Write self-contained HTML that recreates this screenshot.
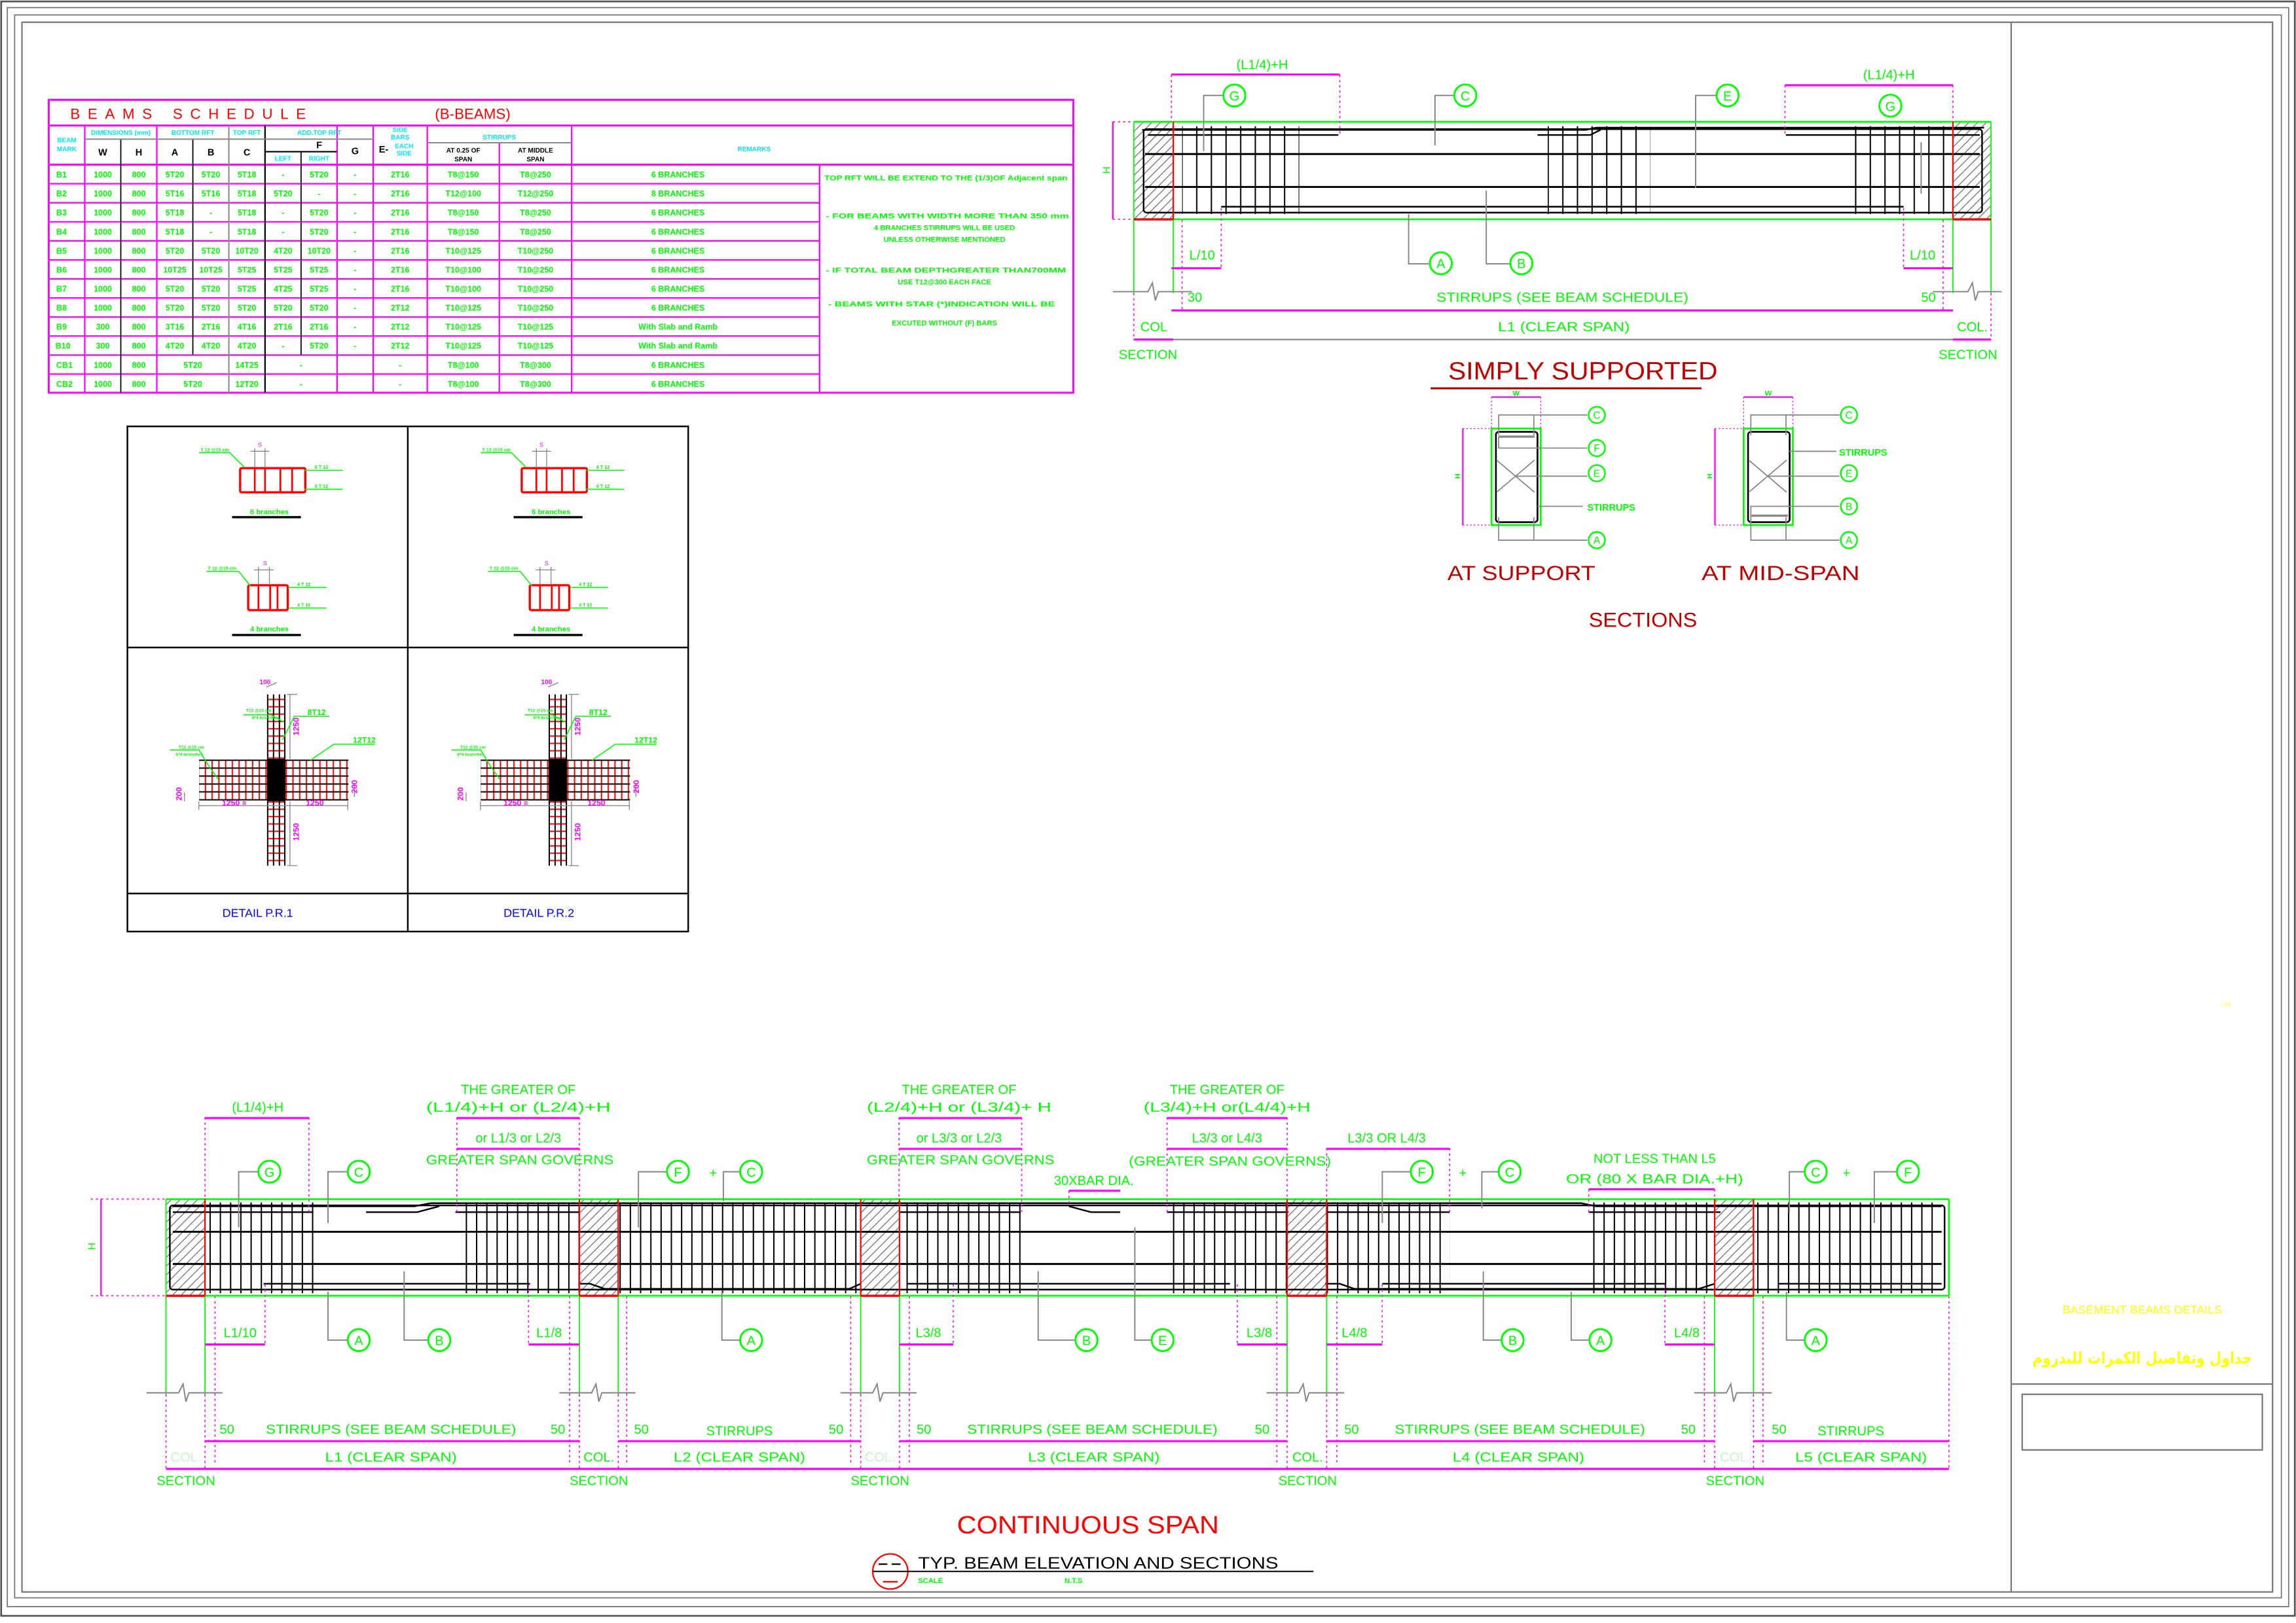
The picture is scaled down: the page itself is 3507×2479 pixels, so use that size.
<!DOCTYPE html>
<html><head><meta charset="utf-8"><style>
html,body{margin:0;padding:0;background:#fff}
svg{display:block}
text{font-family:"Liberation Sans Narrow","Liberation Sans",sans-serif}
.g{fill:#00ff00}.m{fill:#ff00ff}.r{fill:#ff0000}.dr{fill:#c00000}.c{fill:#00e8ff}.k{fill:#000}.b{fill:#0000ff}.y{fill:#ffff00}
.t{font-size:5.6px;font-weight:bold;text-anchor:middle}
.h{font-size:5px;font-weight:bold;text-anchor:middle}
.L{font-size:10px;text-anchor:middle}
.S{font-size:9px;text-anchor:middle}
</style></head><body>
<svg xmlns="http://www.w3.org/2000/svg" width="3507" height="2479" viewBox="0 0 1568 1108">
<defs>
<pattern id="hat" patternUnits="userSpaceOnUse" width="6" height="6"><path d="M-1,1 l2,-2 M0,6 l6,-6 M5,7 l2,-2" stroke="#777" stroke-width="0.6"/></pattern>
<pattern id="st7" patternUnits="userSpaceOnUse" width="7" height="200" x="0"><line x1="3.5" y1="0" x2="3.5" y2="200" stroke="#000" stroke-width="0.9"/></pattern>
<pattern id="st10" patternUnits="userSpaceOnUse" width="10" height="200" x="2.3"><line x1="5" y1="0" x2="5" y2="200" stroke="#000" stroke-width="0.9"/></pattern>
<pattern id="rv" patternUnits="userSpaceOnUse" width="4.6" height="50" x="0"><line x1="2.3" y1="0" x2="2.3" y2="50" stroke="#f00" stroke-width="0.9"/></pattern>
<pattern id="rh" patternUnits="userSpaceOnUse" width="50" height="5" y="0"><line x1="0" y1="2.5" x2="50" y2="2.5" stroke="#f00" stroke-width="0.9"/></pattern>
<g id="circ"><circle r="7.5" fill="#fff" stroke="#00ff00" stroke-width="1.3"/></g>
</defs>
<rect width="1568" height="1108" fill="#fff"/>
<!-- frame -->
<g fill="none" stroke="#777">
<rect x="0.8" y="0.8" width="1566.4" height="1102.5" stroke-width="1.2" stroke="#555"/>
<rect x="5" y="5" width="1558" height="1092" stroke-width="0.8"/>
<rect x="10" y="10" width="1548" height="1081" stroke-width="0.8"/>
<rect x="15" y="15" width="1537" height="1072" stroke-width="1"/>
<line x1="1373.5" y1="15" x2="1373.5" y2="1087" stroke-width="1"/>
<line x1="1373.5" y1="945" x2="1552" y2="945" stroke-width="1"/>
<rect x="1381" y="952" width="164" height="38" stroke-width="1"/>
</g>
<text x="1463" y="897" class="y" style="font-size:8px;text-anchor:middle">BASEMENT BEAMS DETAILS</text>
<text x="1463" y="931" class="y" style="font-size:11px;text-anchor:middle;font-family:'DejaVu Sans',sans-serif;font-weight:bold" textLength="150" lengthAdjust="spacingAndGlyphs">جداول وتفاصيل الكمرات للبدروم</text>
<text x="1520" y="687" class="y" style="font-size:3px;text-anchor:middle">1:100</text>

<!-- ================= SCHEDULE TABLE ================= -->
<g fill="none" stroke="#ff00ff" stroke-width="1">
<rect x="33.3" y="68" width="699.7" height="200" stroke-width="1.3"/>
<line x1="33.3" y1="85.5" x2="733" y2="85.5" stroke-width="1.3"/>
<line x1="33.3" y1="112.3" x2="733" y2="112.3" stroke-width="1.3"/>
<line x1="33.3" y1="125.3" x2="559.7" y2="125.3"/><line x1="33.3" y1="138.3" x2="559.7" y2="138.3"/>
<line x1="33.3" y1="151.3" x2="559.7" y2="151.3"/><line x1="33.3" y1="164.3" x2="559.7" y2="164.3"/>
<line x1="33.3" y1="177.3" x2="559.7" y2="177.3"/><line x1="33.3" y1="190.3" x2="559.7" y2="190.3"/>
<line x1="33.3" y1="203.3" x2="559.7" y2="203.3"/><line x1="33.3" y1="216.3" x2="559.7" y2="216.3"/>
<line x1="33.3" y1="229.3" x2="559.7" y2="229.3"/><line x1="33.3" y1="242.3" x2="559.7" y2="242.3"/>
<line x1="33.3" y1="255.3" x2="559.7" y2="255.3"/>
<line x1="57.9" y1="85.5" x2="57.9" y2="268"/>
<line x1="107.1" y1="85.5" x2="107.1" y2="268"/>
<line x1="230.2" y1="85.5" x2="230.2" y2="268"/>
<line x1="254.9" y1="85.5" x2="254.9" y2="268"/>
<line x1="291.8" y1="85.5" x2="291.8" y2="268"/>
<line x1="341" y1="97" x2="341" y2="268"/>
<line x1="390.4" y1="85.5" x2="390.4" y2="268"/>
<line x1="559.7" y1="112.3" x2="559.7" y2="268"/>
</g>
<g stroke="#000" stroke-width="0.8">
<line x1="82.5" y1="94.8" x2="82.5" y2="268"/>
<line x1="131.7" y1="94.8" x2="131.7" y2="242"/>
<line x1="181" y1="85.5" x2="181" y2="268" stroke-width="1"/>
<line x1="205.6" y1="103.4" x2="205.6" y2="242"/>
<line x1="181" y1="103.4" x2="230.2" y2="103.4" stroke-width="1"/>
</g>
<g stroke="#888" stroke-width="0.9">
<line x1="156.3" y1="85.5" x2="156.3" y2="268"/>
<line x1="57.9" y1="94.8" x2="181" y2="94.8"/>
<line x1="181" y1="94.8" x2="254.9" y2="94.8"/>
<line x1="291.8" y1="97.3" x2="390.4" y2="97.3"/>
</g>
<text x="48" y="81" class="r" style="font-size:10px;letter-spacing:5.2px">BEAMS</text>
<text x="118" y="81" class="r" style="font-size:10px;letter-spacing:5.2px">SCHEDULE</text>
<text x="297" y="81" class="r" style="font-size:10px">(B-BEAMS)</text>
<g class="c h" style="font-size:4.5px">
<text x="45.6" y="97">BEAM</text><text x="45.6" y="103">MARK</text>
<text x="82.5" y="92">DIMENSIONS (mm)</text><text x="131.7" y="92">BOTTOM RFT</text><text x="168.6" y="92">TOP RFT</text>
<text x="218" y="92">ADD.TOP RFT</text><text x="193.3" y="109.5">LEFT</text><text x="217.9" y="109.5">RIGHT</text>
<text x="273.3" y="90">SIDE</text><text x="273.3" y="95">BARS</text><text x="276" y="101">EACH</text><text x="276" y="106">SIDE</text>
<text x="341" y="95">STIRRUPS</text><text x="515" y="103">REMARKS</text>
</g>
<g class="k t" style="font-size:6.5px">
<text x="70.2" y="106">W</text><text x="94.8" y="106">H</text><text x="119.4" y="106">A</text><text x="144" y="106">B</text><text x="168.6" y="106">C</text>
<text x="218" y="101">F</text><text x="242.5" y="105">G</text><text x="262" y="104">E-</text>
</g>
<g class="k h" style="font-size:4.5px"><text x="316.4" y="104">AT 0.25 OF</text><text x="316.4" y="110">SPAN</text><text x="365.7" y="104">AT MIDDLE</text><text x="365.7" y="110">SPAN</text></g>
<g class="g t">
<text y="121"><tspan x="42">B1</tspan><tspan x="70.2">1000</tspan><tspan x="94.8">800</tspan><tspan x="119.4">5T20</tspan><tspan x="144">5T20</tspan><tspan x="168.6">5T18</tspan><tspan x="193.3">-</tspan><tspan x="217.9">5T20</tspan><tspan x="242.5">-</tspan><tspan x="273.3">2T16</tspan><tspan x="316.4">T8@150</tspan><tspan x="365.7">T8@250</tspan><tspan x="463">6 BRANCHES</tspan></text>
<text y="134"><tspan x="42">B2</tspan><tspan x="70.2">1000</tspan><tspan x="94.8">800</tspan><tspan x="119.4">5T16</tspan><tspan x="144">5T16</tspan><tspan x="168.6">5T18</tspan><tspan x="193.3">5T20</tspan><tspan x="217.9">-</tspan><tspan x="242.5">-</tspan><tspan x="273.3">2T16</tspan><tspan x="316.4">T12@100</tspan><tspan x="365.7">T12@250</tspan><tspan x="463">8 BRANCHES</tspan></text>
<text y="147"><tspan x="42">B3</tspan><tspan x="70.2">1000</tspan><tspan x="94.8">800</tspan><tspan x="119.4">5T18</tspan><tspan x="144">-</tspan><tspan x="168.6">5T18</tspan><tspan x="193.3">-</tspan><tspan x="217.9">5T20</tspan><tspan x="242.5">-</tspan><tspan x="273.3">2T16</tspan><tspan x="316.4">T8@150</tspan><tspan x="365.7">T8@250</tspan><tspan x="463">6 BRANCHES</tspan></text>
<text y="160"><tspan x="42">B4</tspan><tspan x="70.2">1000</tspan><tspan x="94.8">800</tspan><tspan x="119.4">5T18</tspan><tspan x="144">-</tspan><tspan x="168.6">5T18</tspan><tspan x="193.3">-</tspan><tspan x="217.9">5T20</tspan><tspan x="242.5">-</tspan><tspan x="273.3">2T16</tspan><tspan x="316.4">T8@150</tspan><tspan x="365.7">T8@250</tspan><tspan x="463">6 BRANCHES</tspan></text>
<text y="173"><tspan x="42">B5</tspan><tspan x="70.2">1000</tspan><tspan x="94.8">800</tspan><tspan x="119.4">5T20</tspan><tspan x="144">5T20</tspan><tspan x="168.6">10T20</tspan><tspan x="193.3">4T20</tspan><tspan x="217.9">10T20</tspan><tspan x="242.5">-</tspan><tspan x="273.3">2T16</tspan><tspan x="316.4">T10@125</tspan><tspan x="365.7">T10@250</tspan><tspan x="463">6 BRANCHES</tspan></text>
<text y="186"><tspan x="42">B6</tspan><tspan x="70.2">1000</tspan><tspan x="94.8">800</tspan><tspan x="119.4">10T25</tspan><tspan x="144">10T25</tspan><tspan x="168.6">5T25</tspan><tspan x="193.3">5T25</tspan><tspan x="217.9">5T25</tspan><tspan x="242.5">-</tspan><tspan x="273.3">2T16</tspan><tspan x="316.4">T10@100</tspan><tspan x="365.7">T10@250</tspan><tspan x="463">6 BRANCHES</tspan></text>
<text y="199"><tspan x="42">B7</tspan><tspan x="70.2">1000</tspan><tspan x="94.8">800</tspan><tspan x="119.4">5T20</tspan><tspan x="144">5T20</tspan><tspan x="168.6">5T25</tspan><tspan x="193.3">4T25</tspan><tspan x="217.9">5T25</tspan><tspan x="242.5">-</tspan><tspan x="273.3">2T16</tspan><tspan x="316.4">T10@100</tspan><tspan x="365.7">T10@250</tspan><tspan x="463">6 BRANCHES</tspan></text>
<text y="212"><tspan x="42">B8</tspan><tspan x="70.2">1000</tspan><tspan x="94.8">800</tspan><tspan x="119.4">5T20</tspan><tspan x="144">5T20</tspan><tspan x="168.6">5T20</tspan><tspan x="193.3">5T20</tspan><tspan x="217.9">5T20</tspan><tspan x="242.5">-</tspan><tspan x="273.3">2T12</tspan><tspan x="316.4">T10@125</tspan><tspan x="365.7">T10@250</tspan><tspan x="463">6 BRANCHES</tspan></text>
<text y="225"><tspan x="42">B9</tspan><tspan x="70.2">300</tspan><tspan x="94.8">800</tspan><tspan x="119.4">3T16</tspan><tspan x="144">2T16</tspan><tspan x="168.6">4T16</tspan><tspan x="193.3">2T16</tspan><tspan x="217.9">2T16</tspan><tspan x="242.5">-</tspan><tspan x="273.3">2T12</tspan><tspan x="316.4">T10@125</tspan><tspan x="365.7">T10@125</tspan><tspan x="463">With Slab and Ramb</tspan></text>
<text y="238"><tspan x="43">B10</tspan><tspan x="70.2">300</tspan><tspan x="94.8">800</tspan><tspan x="119.4">4T20</tspan><tspan x="144">4T20</tspan><tspan x="168.6">4T20</tspan><tspan x="193.3">-</tspan><tspan x="217.9">5T20</tspan><tspan x="242.5">-</tspan><tspan x="273.3">2T12</tspan><tspan x="316.4">T10@125</tspan><tspan x="365.7">T10@125</tspan><tspan x="463">With Slab and Ramb</tspan></text>
<text y="251"><tspan x="44">CB1</tspan><tspan x="70.2">1000</tspan><tspan x="94.8">800</tspan><tspan x="131.7">5T20</tspan><tspan x="168.6">14T25</tspan><tspan x="205.6">-</tspan><tspan x="273.3">-</tspan><tspan x="316.4">T8@100</tspan><tspan x="365.7">T8@300</tspan><tspan x="463">6 BRANCHES</tspan></text>
<text y="264"><tspan x="44">CB2</tspan><tspan x="70.2">1000</tspan><tspan x="94.8">800</tspan><tspan x="131.7">5T20</tspan><tspan x="168.6">12T20</tspan><tspan x="205.6">-</tspan><tspan x="273.3">-</tspan><tspan x="316.4">T8@100</tspan><tspan x="365.7">T8@300</tspan><tspan x="463">6 BRANCHES</tspan></text>
</g>
<g class="g h" style="font-size:5px">
<text x="646" y="123" textLength="166" lengthAdjust="spacingAndGlyphs">TOP RFT WILL BE EXTEND TO THE (1/3)OF Adjacent span</text>
<text x="647" y="149" textLength="166" lengthAdjust="spacingAndGlyphs">-   FOR BEAMS WITH WIDTH MORE THAN 350 mm</text>
<text x="645" y="157">4 BRANCHES STIRRUPS WILL BE USED</text>
<text x="645" y="165">UNLESS OTHERWISE MENTIONED</text>
<text x="646" y="186" textLength="164" lengthAdjust="spacingAndGlyphs">-   IF TOTAL BEAM DEPTHGREATER THAN700MM</text>
<text x="645" y="194">USE  T12@300 EACH FACE</text>
<text x="643" y="209" textLength="155" lengthAdjust="spacingAndGlyphs">-   BEAMS WITH STAR (*)INDICATION WILL BE</text>
<text x="645" y="222">EXCUTED WITHOUT (F) BARS</text>
</g>

<!-- ================= DETAILS P.R. ================= -->
<g fill="none" stroke="#000" stroke-width="1.1">
<rect x="87" y="291" width="383" height="345"/>
<line x1="278.5" y1="291" x2="278.5" y2="636"/>
<line x1="87" y1="442" x2="470" y2="442"/>
<line x1="87" y1="610" x2="470" y2="610"/>
</g>
<text x="176" y="626" class="b" style="font-size:8px;text-anchor:middle">DETAIL P.R.1</text>
<text x="368" y="626" class="b" style="font-size:8px;text-anchor:middle">DETAIL P.R.2</text>
<g id="stirr">
 <rect x="164" y="319.5" width="44.5" height="16.5" fill="none" stroke="#f00" stroke-width="1.5" rx="1"/>
 <g stroke="#f00" stroke-width="1.2"><line x1="174" y1="320" x2="174" y2="336"/><line x1="181" y1="320" x2="181" y2="336"/><line x1="191.5" y1="320" x2="191.5" y2="336"/><line x1="199.5" y1="320" x2="199.5" y2="336"/></g>
 <g stroke="#888" stroke-width="0.6"><line x1="174" y1="306" x2="174" y2="319"/><line x1="181" y1="306" x2="181" y2="319"/><line x1="171" y1="308" x2="184" y2="308"/></g>
 <text x="177.5" y="305" class="m" style="font-size:4px;text-anchor:middle">S</text>
 <polyline points="136,309 157,309 167,319" fill="none" stroke="#0f0" stroke-width="0.7"/>
 <text x="137" y="308" class="g" style="font-size:3.2px;font-weight:bold">T 12 @15 cm</text>
 <line x1="208" y1="321" x2="234" y2="321" stroke="#0f0" stroke-width="0.7"/><line x1="208" y1="334" x2="234" y2="334" stroke="#0f0" stroke-width="0.7"/>
 <text x="215" y="320" class="g" style="font-size:3.2px;font-weight:bold">6 T 12</text><text x="215" y="333" class="g" style="font-size:3.2px;font-weight:bold">6 T 12</text>
 <text x="184" y="351" class="g" style="font-size:5px;text-anchor:middle;font-weight:bold">6  branches</text>
 <line x1="158.5" y1="353" x2="205.5" y2="353" stroke="#000" stroke-width="1.5"/>
 <rect x="169.5" y="399.5" width="27" height="17" fill="none" stroke="#f00" stroke-width="1.5" rx="1"/>
 <g stroke="#f00" stroke-width="1.2"><line x1="176.5" y1="400" x2="176.5" y2="417"/><line x1="184.5" y1="400" x2="184.5" y2="417"/><line x1="189.5" y1="400" x2="189.5" y2="417"/></g>
 <g stroke="#888" stroke-width="0.6"><line x1="176.5" y1="387" x2="176.5" y2="399"/><line x1="184" y1="387" x2="184" y2="399"/><line x1="173.5" y1="389" x2="187" y2="389"/></g>
 <text x="181" y="386" class="m" style="font-size:4px;text-anchor:middle">S</text>
 <polyline points="141,390 163,390 171,400" fill="none" stroke="#0f0" stroke-width="0.7"/>
 <text x="142" y="389" class="g" style="font-size:3.2px;font-weight:bold">T 12 @15 cm</text>
 <line x1="197" y1="401" x2="223" y2="401" stroke="#0f0" stroke-width="0.7"/><line x1="197" y1="415" x2="223" y2="415" stroke="#0f0" stroke-width="0.7"/>
 <text x="203" y="400" class="g" style="font-size:3.2px;font-weight:bold">4 T 12</text><text x="203" y="414" class="g" style="font-size:3.2px;font-weight:bold">4 T 12</text>
 <text x="184" y="431" class="g" style="font-size:5px;text-anchor:middle;font-weight:bold">4  branches</text>
 <line x1="158.5" y1="433.5" x2="205.5" y2="433.5" stroke="#000" stroke-width="1.5"/>
 <!-- cross -->
 <rect x="182.5" y="474" width="12" height="44" fill="url(#rh)"/>
 <rect x="182.5" y="547" width="12" height="44" fill="url(#rh)"/>
 <rect x="136" y="519" width="46.5" height="27" fill="url(#rv)"/>
 <rect x="194.7" y="519" width="42.8" height="27" fill="url(#rv)"/>
 <g stroke="#000" stroke-width="0.9">
  <line x1="182.8" y1="474" x2="182.8" y2="591"/><line x1="186.8" y1="474" x2="186.8" y2="591"/><line x1="190.8" y1="474" x2="190.8" y2="591"/><line x1="194.5" y1="474" x2="194.5" y2="591"/>
  <line x1="136" y1="519" x2="238" y2="519"/><line x1="136" y1="524.4" x2="238" y2="524.4"/><line x1="136" y1="529.8" x2="238" y2="529.8"/><line x1="136" y1="535.2" x2="238" y2="535.2"/><line x1="136" y1="540.6" x2="238" y2="540.6"/><line x1="136" y1="546" x2="238" y2="546"/>
 </g>
 <rect x="182.5" y="518" width="12.2" height="29" fill="#000"/>
 <g stroke="#888" stroke-width="0.6" fill="none">
  <line x1="198" y1="474" x2="198" y2="518"/><line x1="196" y1="474" x2="203" y2="474"/>
  <line x1="198" y1="547" x2="198" y2="591"/><line x1="196" y1="591" x2="203" y2="591"/>
  <line x1="135.8" y1="550" x2="237.5" y2="550"/><line x1="135.8" y1="547" x2="135.8" y2="553"/><line x1="237.5" y1="547" x2="237.5" y2="553"/>
  <line x1="126" y1="541" x2="126" y2="547"/><line x1="242" y1="535" x2="242" y2="544"/>
  <line x1="182" y1="469" x2="189" y2="466"/>
 </g>
 <text x="181" y="467" class="m" style="font-size:4.5px;text-anchor:middle;font-weight:bold">100</text>
 <text transform="translate(204,496) rotate(-90)" class="m" style="font-size:5.5px;text-anchor:middle;font-weight:bold">1250</text>
 <text transform="translate(204,568) rotate(-90)" class="m" style="font-size:5.5px;text-anchor:middle;font-weight:bold">1250</text>
 <text transform="translate(124,542) rotate(-90)" class="m" style="font-size:5.5px;text-anchor:middle;font-weight:bold">200</text>
 <text transform="translate(244,537) rotate(-90)" class="m" style="font-size:5.5px;text-anchor:middle;font-weight:bold">200</text>
 <text x="160" y="550" class="m" style="font-size:5.5px;text-anchor:middle;font-weight:bold">1250 ≡</text>
 <text x="215" y="550" class="m" style="font-size:5.5px;text-anchor:middle;font-weight:bold">1250</text>
 <polyline points="166,488 185,488 194,493" fill="none" stroke="#0f0" stroke-width="0.7"/>
 <text x="168" y="486" class="g" style="font-size:3px;font-weight:bold">T12 @15 cm</text><text x="172" y="491" class="g" style="font-size:3px;font-weight:bold">6*4 branches</text>
 <polyline points="193,505 201,489 225,489" fill="none" stroke="#0f0" stroke-width="0.7"/>
 <text x="210" y="488" class="g" style="font-size:5.5px;font-weight:bold">8T12</text>
 <polyline points="212,519 228,508 256,508" fill="none" stroke="#0f0" stroke-width="0.7"/>
 <text x="241" y="507" class="g" style="font-size:5.5px;font-weight:bold">12T12</text>
 <polyline points="116,512 136,512 142,522 149,532" fill="none" stroke="#0f0" stroke-width="0.7"/>
 <text x="122" y="511" class="g" style="font-size:3px;font-weight:bold">T12 @15 cm</text><text x="120" y="516" class="g" style="font-size:3px;font-weight:bold">6*4 branches</text>
</g>
<use href="#stirr" x="192.3" y="0"/>

<!-- ================= SIMPLY SUPPORTED ================= -->
<rect x="774.3" y="83" width="27" height="66.6" fill="url(#hat)"/>
<rect x="1333.7" y="83" width="26" height="66.6" fill="url(#hat)"/>
<rect x="807.3" y="86" width="80" height="60" fill="url(#st10)"/>
<rect x="1057" y="86" width="70" height="60" fill="url(#st10)"/>
<rect x="1262" y="86" width="70" height="60" fill="url(#st10)"/>
<g fill="none" stroke="#000" stroke-width="1.1">
<rect x="781" y="88" width="572.6" height="57" rx="2"/>
<path d="M780,88.5 H1083 L1090,87 H1355"/>
<path d="M784,92 H914 M1050,92 H1086 L1093,88.5 M1219.6,92 H1352"/>
<line x1="782" y1="105" x2="1352" y2="105" stroke-width="1.3"/>
<line x1="782" y1="127.5" x2="1352" y2="127.5" stroke-width="1.3"/>
<line x1="834" y1="141" x2="1300" y2="141"/>
</g>
<g stroke="#0f0" stroke-width="1.2" fill="none">
<line x1="774.3" y1="83" x2="1359.7" y2="83"/>
<line x1="774.3" y1="149.6" x2="1359.7" y2="149.6"/>
<line x1="774.3" y1="83" x2="774.3" y2="200" stroke-width="0.8"/>
<line x1="801.3" y1="149.6" x2="801.3" y2="200" stroke-width="0.8"/>
<line x1="1333.7" y1="149.6" x2="1333.7" y2="200" stroke-width="0.8"/>
<line x1="1359.7" y1="83" x2="1359.7" y2="200" stroke-width="0.8"/>
</g>
<g stroke="#f00" stroke-width="1"><line x1="801.3" y1="83" x2="801.3" y2="149.6"/><line x1="1333.7" y1="83" x2="1333.7" y2="149.6"/><line x1="774.3" y1="149.6" x2="801.3" y2="149.6" stroke-width="1.5"/><line x1="1333.7" y1="149.6" x2="1359.7" y2="149.6" stroke-width="1.5"/></g>
<g stroke="#f0f" stroke-width="0.7" stroke-dasharray="1.5,2" fill="none">
<line x1="800" y1="51" x2="800" y2="83"/><line x1="915" y1="51" x2="915" y2="92"/><line x1="1219" y1="58" x2="1219" y2="92"/><line x1="1333.7" y1="58" x2="1333.7" y2="83"/>
<line x1="807.3" y1="150" x2="807.3" y2="212"/><line x1="834" y1="142" x2="834" y2="183"/><line x1="1300" y1="142" x2="1300" y2="183"/><line x1="1327" y1="150" x2="1327" y2="212"/>
<line x1="774.3" y1="200" x2="774.3" y2="232"/><line x1="1359.7" y1="200" x2="1359.7" y2="232"/>
<line x1="760" y1="83" x2="774" y2="83"/><line x1="760" y1="149.6" x2="774" y2="149.6"/>
</g>
<g stroke="#f0f" stroke-width="1.4">
<line x1="800" y1="50.7" x2="915" y2="50.7"/><line x1="1219" y1="58" x2="1333.7" y2="58"/>
<line x1="800" y1="183" x2="834" y2="183"/><line x1="1300" y1="183" x2="1333.7" y2="183"/>
<line x1="800" y1="211.8" x2="1333.7" y2="211.8"/>
<line x1="774.3" y1="231.7" x2="801.3" y2="231.7"/><line x1="1333.7" y1="231.7" x2="1359.7" y2="231.7"/>
<line x1="760" y1="83" x2="760" y2="149.6" stroke-width="1"/>
</g>
<line x1="801.3" y1="231.7" x2="1333.7" y2="231.7" stroke="#888" stroke-width="1"/>
<g stroke="#888" stroke-width="0.9" fill="none">
<polyline points="760,199 784,199 787,193 789,205 791,199 814,199"/>
<polyline points="1320,199 1344,199 1347,193 1349,205 1351,199 1367,199"/>
<polyline points="835,65 822,65 822,103"/><polyline points="993,65 980,65 980,99"/>
<polyline points="1172,65 1158,65 1158,128"/><polyline points="1312,132 1312,97"/>
<polyline points="976,180 962,180 962,146"/><polyline points="1031,180 1015,180 1015,130"/>
</g>
<g class="g S">
<text x="862" y="47">(L1/4)+H</text><text x="1290" y="54">(L1/4)+H</text>
<text x="821" y="177">L/10</text><text x="1313" y="177">L/10</text>
<text x="816" y="206">30</text><text x="1317" y="206">50</text>
<text x="1067" y="206" textLength="172" lengthAdjust="spacingAndGlyphs">STIRRUPS (SEE BEAM SCHEDULE)</text>
<text x="1068" y="226" textLength="90" lengthAdjust="spacingAndGlyphs">L1 (CLEAR SPAN)</text>
<text x="788" y="226">COL</text><text x="1347" y="226">COL.</text>
<text x="784" y="245">SECTION</text><text x="1344" y="245">SECTION</text>
</g>
<text transform="translate(758,116) rotate(-90)" class="g" style="font-size:7px;text-anchor:middle">H</text>
<g>
<use href="#circ" x="843" y="65"/><use href="#circ" x="1000.7" y="65"/><use href="#circ" x="1179.8" y="65"/><use href="#circ" x="1291" y="72"/>
<use href="#circ" x="984" y="179.6"/><use href="#circ" x="1039" y="179.6"/>
</g>
<g class="g" style="font-size:9px;text-anchor:middle">
<text x="843" y="68.5">G</text><text x="1000.7" y="68.5">C</text><text x="1179.8" y="68.5">E</text><text x="1291" y="75.5">G</text>
<text x="984" y="183">A</text><text x="1039" y="183">B</text>
</g>
<text x="1081" y="259" class="dr" style="font-size:17px;text-anchor:middle" textLength="184" lengthAdjust="spacingAndGlyphs">SIMPLY SUPPORTED</text>
<line x1="977" y1="265" x2="1162" y2="265" stroke="#a00" stroke-width="1.3"/>

<!-- ================= SECTIONS ================= -->
<g id="sec">
<rect x="1018.6" y="292.5" width="33.6" height="65.9" fill="none" stroke="#0f0" stroke-width="1.2"/>
<rect x="1021.6" y="294.7" width="28.4" height="61.7" rx="2" fill="none" stroke="#000" stroke-width="1.2"/>
<g stroke="#888" stroke-width="0.8" fill="none">
<line x1="1022" y1="314" x2="1048" y2="336"/><line x1="1048" y1="314" x2="1022" y2="336"/>
<line x1="1035" y1="325" x2="1084" y2="325"/>
<polyline points="1023.5,353 1023.5,368.7 1084,368.7"/><line x1="1047.5" y1="353" x2="1047.5" y2="368.7"/>
<polyline points="1023.5,297 1023.5,283.2 1084,283.2"/><line x1="1047.5" y1="297" x2="1047.5" y2="283.2"/>
</g>
<g stroke="#f0f" stroke-width="1"><line x1="1018.6" y1="271" x2="1052.2" y2="271"/><line x1="999" y1="292.5" x2="999" y2="358.4"/></g>
<g stroke="#f0f" stroke-width="0.6" stroke-dasharray="1,1.5"><line x1="1018.6" y1="271" x2="1018.6" y2="292"/><line x1="1052.2" y1="271" x2="1052.2" y2="292"/><line x1="999" y1="292.5" x2="1018" y2="292.5"/><line x1="999" y1="358.4" x2="1018" y2="358.4"/></g>
<text x="1035.4" y="270" class="g" style="font-size:5px;text-anchor:middle;font-weight:bold">W</text>
<text transform="translate(997,325) rotate(-90)" class="g" style="font-size:5px;text-anchor:middle;font-weight:bold">H</text>
<circle cx="1090.5" cy="283.2" r="5.6" fill="#fff" stroke="#0f0" stroke-width="1.1"/>
<circle cx="1090.5" cy="323" r="5.6" fill="#fff" stroke="#0f0" stroke-width="1.1"/>
<circle cx="1090.5" cy="368.7" r="5.6" fill="#fff" stroke="#0f0" stroke-width="1.1"/>
<g class="g" style="font-size:7px;text-anchor:middle"><text x="1090.5" y="285.7">C</text><text x="1090.5" y="325.5">E</text><text x="1090.5" y="371.2">A</text></g>
</g>
<g stroke="#888" stroke-width="0.8" fill="none">
<polyline points="1023.5,298 1023.5,305.8 1084,305.8"/><line x1="1023.5" y1="298" x2="1048" y2="298" stroke-width="1.5"/>
<line x1="1050" y1="345.6" x2="1081" y2="345.6"/>
</g>
<circle cx="1090.5" cy="305.8" r="5.6" fill="#fff" stroke="#0f0" stroke-width="1.1"/>
<text x="1090.5" y="308.3" class="g" style="font-size:7px;text-anchor:middle">F</text>
<text x="1084" y="348.5" class="g" style="font-size:6.5px;font-weight:bold">STIRRUPS</text>
<use href="#sec" x="172.2" y="0"/>
<g stroke="#888" stroke-width="0.8" fill="none">
<polyline points="1195.7,353 1195.7,345.6 1256,345.6"/><line x1="1195.7" y1="352" x2="1221" y2="352" stroke-width="1.5"/>
<line x1="1222" y1="308" x2="1254" y2="308"/>
</g>
<circle cx="1262.7" cy="345.6" r="5.6" fill="#fff" stroke="#0f0" stroke-width="1.1"/>
<text x="1262.7" y="348.1" class="g" style="font-size:7px;text-anchor:middle">B</text>
<text x="1256" y="311" class="g" style="font-size:6.5px;font-weight:bold">STIRRUPS</text>
<text x="1039" y="396" class="dr" style="font-size:14px;text-anchor:middle" textLength="101" lengthAdjust="spacingAndGlyphs">AT SUPPORT</text>
<text x="1216" y="396" class="dr" style="font-size:14px;text-anchor:middle" textLength="108" lengthAdjust="spacingAndGlyphs">AT MID-SPAN</text>
<text x="1122" y="428" class="dr" style="font-size:14px;text-anchor:middle" textLength="74" lengthAdjust="spacingAndGlyphs">SECTIONS</text>

<!-- ================= CONTINUOUS SPAN ================= -->
<g fill="url(#hat)">
<rect x="113.4" y="818.7" width="26.6" height="66"/><rect x="395.7" y="818.7" width="26.5" height="66"/><rect x="587.8" y="818.7" width="26.5" height="66"/><rect x="879" y="818.7" width="27" height="66"/><rect x="1171" y="818.7" width="26.5" height="66"/>
</g>
<g fill="url(#st7)">
<rect x="140" y="821" width="77" height="62"/><rect x="315" y="821" width="80.7" height="62"/>
<rect x="422.2" y="821" width="165.6" height="62"/>
<rect x="614.3" y="821" width="84" height="62"/><rect x="800" y="821" width="79" height="62"/>
<rect x="906" y="821" width="84" height="62"/><rect x="1087" y="821" width="84" height="62"/>
<rect x="1197.5" y="821" width="128" height="62"/>
</g>
<g fill="none" stroke="#000" stroke-width="1.1">
<rect x="116" y="823" width="1212" height="57.5" rx="2"/>
<path d="M118,823.6 H283 L294,821.5 H1080 L1090,823.6 H1326"/>
<path d="M118,827.6 H214 M250,827.6 H285 L300,823.6 M311,827.6 H395.7 M614,827.6 H697 M730,823.6 L745,827.6 H765 M797,827.6 H880 M906,827.6 H990 M1085,827.6 H1175"/>
<line x1="118" y1="841" x2="1326" y2="841" stroke-width="1.3"/>
<line x1="118" y1="863" x2="1326" y2="863" stroke-width="1.3"/>
<path d="M395,876.5 H403 L413,880 H580 L587.8,876.5 M905,876.5 H915 L925,880 H1160 L1171,876.5"/>
<path d="M180,876.5 H362 M620,876.5 H840 M650,876.5 M944,876.5 H1137 M1215,876.5 H1326"/>
</g>
<g stroke="#0f0" stroke-width="1.2" fill="none">
<line x1="113.4" y1="818.7" x2="1331" y2="818.7"/><line x1="113.4" y1="884.7" x2="1331" y2="884.7"/>
<line x1="113.4" y1="818.7" x2="113.4" y2="952" stroke-width="0.8"/><line x1="140" y1="884.7" x2="140" y2="952" stroke-width="0.8"/>
<line x1="395.7" y1="884.7" x2="395.7" y2="952" stroke-width="0.8"/><line x1="422.2" y1="884.7" x2="422.2" y2="952" stroke-width="0.8"/>
<line x1="587.8" y1="884.7" x2="587.8" y2="952" stroke-width="0.8"/><line x1="614.3" y1="884.7" x2="614.3" y2="952" stroke-width="0.8"/>
<line x1="879" y1="884.7" x2="879" y2="952" stroke-width="0.8"/><line x1="906" y1="884.7" x2="906" y2="952" stroke-width="0.8"/>
<line x1="1171" y1="884.7" x2="1171" y2="952" stroke-width="0.8"/><line x1="1197.5" y1="884.7" x2="1197.5" y2="952" stroke-width="0.8"/>
<line x1="1331" y1="818.7" x2="1331" y2="884.7"/>
</g>
<g stroke="#f00" stroke-width="1">
<line x1="140" y1="818.7" x2="140" y2="884.7"/><line x1="395.7" y1="818.7" x2="395.7" y2="884.7"/><line x1="422.2" y1="818.7" x2="422.2" y2="884.7"/>
<line x1="587.8" y1="818.7" x2="587.8" y2="884.7"/><line x1="614.3" y1="818.7" x2="614.3" y2="884.7"/>
<line x1="879" y1="818.7" x2="879" y2="884.7"/><line x1="906" y1="818.7" x2="906" y2="884.7"/>
<line x1="1171" y1="818.7" x2="1171" y2="884.7"/><line x1="1197.5" y1="818.7" x2="1197.5" y2="884.7"/>
<line x1="113.4" y1="884.7" x2="140" y2="884.7" stroke-width="1.5"/><line x1="395.7" y1="884.7" x2="422.2" y2="884.7" stroke-width="1.5"/><line x1="587.8" y1="884.7" x2="614.3" y2="884.7" stroke-width="1.5"/><line x1="879" y1="884.7" x2="906" y2="884.7" stroke-width="1.5"/><line x1="1171" y1="884.7" x2="1197.5" y2="884.7" stroke-width="1.5"/>
</g>
<g stroke="#f0f" stroke-width="0.7" stroke-dasharray="1.5,2" fill="none">
<line x1="140" y1="763" x2="140" y2="818"/><line x1="211" y1="763" x2="211" y2="828"/>
<line x1="312" y1="763" x2="312" y2="828"/><line x1="395.7" y1="763" x2="395.7" y2="818"/>
<line x1="614" y1="763" x2="614" y2="818"/><line x1="697.7" y1="763" x2="697.7" y2="828"/>
<line x1="797" y1="763" x2="797" y2="828"/><line x1="879" y1="763" x2="879" y2="818"/>
<line x1="906" y1="784" x2="906" y2="818"/><line x1="990" y1="784" x2="990" y2="828"/>
<line x1="1085" y1="812" x2="1085" y2="828"/><line x1="1171" y1="812" x2="1171" y2="818"/>
<line x1="146.8" y1="885" x2="146.8" y2="1000"/><line x1="181" y1="877" x2="181" y2="918"/>
<line x1="361" y1="877" x2="361" y2="918"/><line x1="389" y1="885" x2="389" y2="1000"/>
<line x1="428" y1="885" x2="428" y2="1000"/><line x1="581" y1="885" x2="581" y2="1000"/>
<line x1="621" y1="885" x2="621" y2="1000"/><line x1="651" y1="877" x2="651" y2="918"/>
<line x1="845" y1="877" x2="845" y2="918"/><line x1="872" y1="885" x2="872" y2="1000"/>
<line x1="913" y1="885" x2="913" y2="1000"/><line x1="944" y1="877" x2="944" y2="918"/>
<line x1="1137" y1="877" x2="1137" y2="918"/><line x1="1164" y1="885" x2="1164" y2="1000"/>
<line x1="1204" y1="885" x2="1204" y2="1000"/><line x1="1331" y1="885" x2="1331" y2="1003"/>
<line x1="113.4" y1="952" x2="113.4" y2="1003"/><line x1="140" y1="952" x2="140" y2="1003"/>
<line x1="395.7" y1="952" x2="395.7" y2="1003"/><line x1="422.2" y1="952" x2="422.2" y2="1003"/>
<line x1="587.8" y1="952" x2="587.8" y2="1003"/><line x1="614.3" y1="952" x2="614.3" y2="1003"/>
<line x1="879" y1="952" x2="879" y2="1003"/><line x1="906" y1="952" x2="906" y2="1003"/>
<line x1="1171" y1="952" x2="1171" y2="1003"/><line x1="1197.5" y1="952" x2="1197.5" y2="1003"/>
<line x1="62" y1="818.7" x2="113" y2="818.7"/><line x1="62" y1="884.7" x2="113" y2="884.7"/>
<line x1="730" y1="813" x2="730" y2="823"/>
</g>
<g stroke="#f0f" stroke-width="1.4">
<line x1="140" y1="763.4" x2="211" y2="763.4"/>
<line x1="312" y1="763.4" x2="395.7" y2="763.4"/><line x1="312" y1="784.4" x2="395.7" y2="784.4"/>
<line x1="614" y1="763.4" x2="697.7" y2="763.4"/><line x1="614" y1="784.4" x2="697.7" y2="784.4"/>
<line x1="797" y1="763.4" x2="879" y2="763.4"/><line x1="797" y1="784.4" x2="879" y2="784.4"/>
<line x1="906" y1="784.4" x2="990" y2="784.4"/>
<line x1="1085" y1="812" x2="1171" y2="812"/>
<line x1="730" y1="813" x2="765" y2="813"/>
<line x1="140" y1="918" x2="181" y2="918"/><line x1="361" y1="918" x2="395.7" y2="918"/>
<line x1="614" y1="918" x2="651" y2="918"/><line x1="845" y1="918" x2="879" y2="918"/>
<line x1="906" y1="918" x2="944" y2="918"/><line x1="1137" y1="918" x2="1171" y2="918"/>
<line x1="140" y1="984" x2="395.7" y2="984"/><line x1="422.2" y1="984" x2="587.8" y2="984"/><line x1="614.3" y1="984" x2="879" y2="984"/><line x1="906" y1="984" x2="1171" y2="984"/><line x1="1197.5" y1="984" x2="1331" y2="984"/>
<line x1="113.4" y1="1003" x2="1331" y2="1003"/>
<line x1="69" y1="818.7" x2="69" y2="884.7" stroke-width="1"/>
</g>
<g stroke="#888" stroke-width="0.9" fill="none">
<polyline points="100,951 122,951 125,945 127,957 129,951 152,951"/>
<polyline points="382,951 404,951 407,945 409,957 411,951 434,951"/>
<polyline points="574,951 596,951 599,945 601,957 603,951 626,951"/>
<polyline points="865,951 887,951 890,945 892,957 894,951 918,951"/>
<polyline points="1157,951 1179,951 1182,945 1184,957 1186,951 1210,951"/>
<polyline points="176,800 163,800 163,838"/><polyline points="237,800 224,800 224,835"/>
<polyline points="455,800 436,800 436,838"/><polyline points="505,800 494,800 494,820"/>
<polyline points="963,800 944,800 944,835"/><polyline points="1023,800 1012,800 1012,825"/>
<polyline points="1232,800 1222,800 1222,828"/><polyline points="1295,800 1280,800 1280,835"/>
<polyline points="237,915 224,915 224,882"/><polyline points="292,915 276,915 276,868"/>
<polyline points="505,915 493,915 493,882"/><polyline points="734,915 709,915 709,868"/>
<polyline points="786,915 775,915 775,838"/><polyline points="1025,915 1013,915 1013,868"/>
<polyline points="1085,915 1073,915 1073,882"/><polyline points="1232,915 1220,915 1220,882"/>
</g>
<g>
<use href="#circ" x="184" y="800"/><use href="#circ" x="245" y="800"/><use href="#circ" x="463" y="800"/><use href="#circ" x="513" y="800"/>
<use href="#circ" x="971" y="800"/><use href="#circ" x="1031" y="800"/><use href="#circ" x="1240" y="800"/><use href="#circ" x="1303" y="800"/>
<use href="#circ" x="245" y="915"/><use href="#circ" x="300" y="915"/><use href="#circ" x="513" y="915"/><use href="#circ" x="742" y="915"/>
<use href="#circ" x="794" y="915"/><use href="#circ" x="1033" y="915"/><use href="#circ" x="1093" y="915"/><use href="#circ" x="1240" y="915"/>
</g>
<g class="g" style="font-size:9px;text-anchor:middle">
<text x="184" y="803.5">G</text><text x="245" y="803.5">C</text><text x="463" y="803.5">F</text><text x="513" y="803.5">C</text><text x="487" y="804">+</text>
<text x="971" y="803.5">F</text><text x="1031" y="803.5">C</text><text x="999" y="804">+</text>
<text x="1240" y="803.5">C</text><text x="1303" y="803.5">F</text><text x="1261" y="804">+</text>
<text x="245" y="918.5">A</text><text x="300" y="918.5">B</text><text x="513" y="918.5">A</text><text x="742" y="918.5">B</text>
<text x="794" y="918.5">E</text><text x="1033" y="918.5">B</text><text x="1093" y="918.5">A</text><text x="1240" y="918.5">A</text>
</g>
<text transform="translate(65,851) rotate(-90)" class="g" style="font-size:7px;text-anchor:middle">H</text>
<g class="g S">
<text x="176" y="759">(L1/4)+H</text>
<text x="354" y="747">THE GREATER OF</text>
<text x="354" y="759" textLength="126" lengthAdjust="spacingAndGlyphs">(L1/4)+H or (L2/4)+H</text>
<text x="354" y="780">or L1/3 or L2/3</text>
<text x="355" y="795" textLength="128" lengthAdjust="spacingAndGlyphs">GREATER SPAN GOVERNS</text>
<text x="655" y="747">THE GREATER OF</text>
<text x="655" y="759" textLength="126" lengthAdjust="spacingAndGlyphs">(L2/4)+H or (L3/4)+ H</text>
<text x="655" y="780">or L3/3 or L2/3</text>
<text x="656" y="795" textLength="128" lengthAdjust="spacingAndGlyphs">GREATER SPAN GOVERNS</text>
<text x="747" y="809">30XBAR DIA.</text>
<text x="838" y="747">THE GREATER OF</text>
<text x="838" y="759" textLength="114" lengthAdjust="spacingAndGlyphs">(L3/4)+H or(L4/4)+H</text>
<text x="838" y="780">L3/3 or L4/3</text>
<text x="840" y="796" textLength="138" lengthAdjust="spacingAndGlyphs">(GREATER SPAN GOVERNS)</text>
<text x="947" y="780">L3/3 OR L4/3</text>
<text x="1130" y="794">NOT LESS THAN L5</text>
<text x="1130" y="808" textLength="121" lengthAdjust="spacingAndGlyphs">OR (80 X BAR DIA.+H)</text>
<text x="164" y="913">L1/10</text><text x="375" y="913">L1/8</text><text x="634" y="913">L3/8</text>
<text x="860" y="913">L3/8</text><text x="925" y="913">L4/8</text><text x="1152" y="913">L4/8</text>
<text x="155" y="979">50</text><text x="381" y="979">50</text><text x="438" y="979">50</text><text x="571" y="979">50</text>
<text x="631" y="979">50</text><text x="862" y="979">50</text><text x="923" y="979">50</text><text x="1153" y="979">50</text><text x="1215" y="979">50</text>
<text x="267" y="979" textLength="171" lengthAdjust="spacingAndGlyphs">STIRRUPS (SEE BEAM SCHEDULE)</text>
<text x="505" y="980">STIRRUPS</text>
<text x="746" y="979" textLength="171" lengthAdjust="spacingAndGlyphs">STIRRUPS (SEE BEAM SCHEDULE)</text>
<text x="1038" y="979" textLength="171" lengthAdjust="spacingAndGlyphs">STIRRUPS (SEE BEAM SCHEDULE)</text>
<text x="1264" y="980">STIRRUPS</text>
<text x="267" y="998" textLength="90" lengthAdjust="spacingAndGlyphs">L1 (CLEAR SPAN)</text>
<text x="505" y="998" textLength="90" lengthAdjust="spacingAndGlyphs">L2 (CLEAR SPAN)</text>
<text x="747" y="998" textLength="90" lengthAdjust="spacingAndGlyphs">L3 (CLEAR SPAN)</text>
<text x="1037" y="998" textLength="90" lengthAdjust="spacingAndGlyphs">L4 (CLEAR SPAN)</text>
<text x="1271" y="998" textLength="90" lengthAdjust="spacingAndGlyphs">L5 (CLEAR SPAN)</text>
<text x="409" y="998">COL.</text><text x="893" y="998">COL.</text>
<text x="127" y="1014">SECTION</text><text x="409" y="1014">SECTION</text><text x="601" y="1014">SECTION</text><text x="893" y="1014">SECTION</text><text x="1185" y="1014">SECTION</text>
</g>
<g style="font-size:9px;text-anchor:middle;fill:#c8f5c8"><text x="127" y="998">COL.</text><text x="601" y="998">COL.</text><text x="1185" y="998">COL.</text></g>
<text x="743" y="1047" class="r" style="font-size:17px;text-anchor:middle" textLength="179" lengthAdjust="spacingAndGlyphs">CONTINUOUS SPAN</text>
<circle cx="608" cy="1073" r="12" fill="none" stroke="#f00" stroke-width="1"/>
<line x1="596" y1="1073" x2="897" y2="1073" stroke="#000" stroke-width="0.9"/>
<line x1="600" y1="1068" x2="606" y2="1068" stroke="#000" stroke-width="1"/><line x1="609" y1="1068" x2="615" y2="1068" stroke="#000" stroke-width="1"/>
<line x1="603" y1="1080" x2="613" y2="1080" stroke="#f00" stroke-width="1"/>
<text x="627" y="1071" class="k" style="font-size:11px" textLength="246" lengthAdjust="spacingAndGlyphs">TYP.  BEAM  ELEVATION  AND  SECTIONS</text>
<text x="627" y="1081" class="g" style="font-size:5px;font-weight:bold">SCALE</text>
<text x="727" y="1081" class="g" style="font-size:5px;font-weight:bold">N.T.S</text>
</svg>
</body></html>
